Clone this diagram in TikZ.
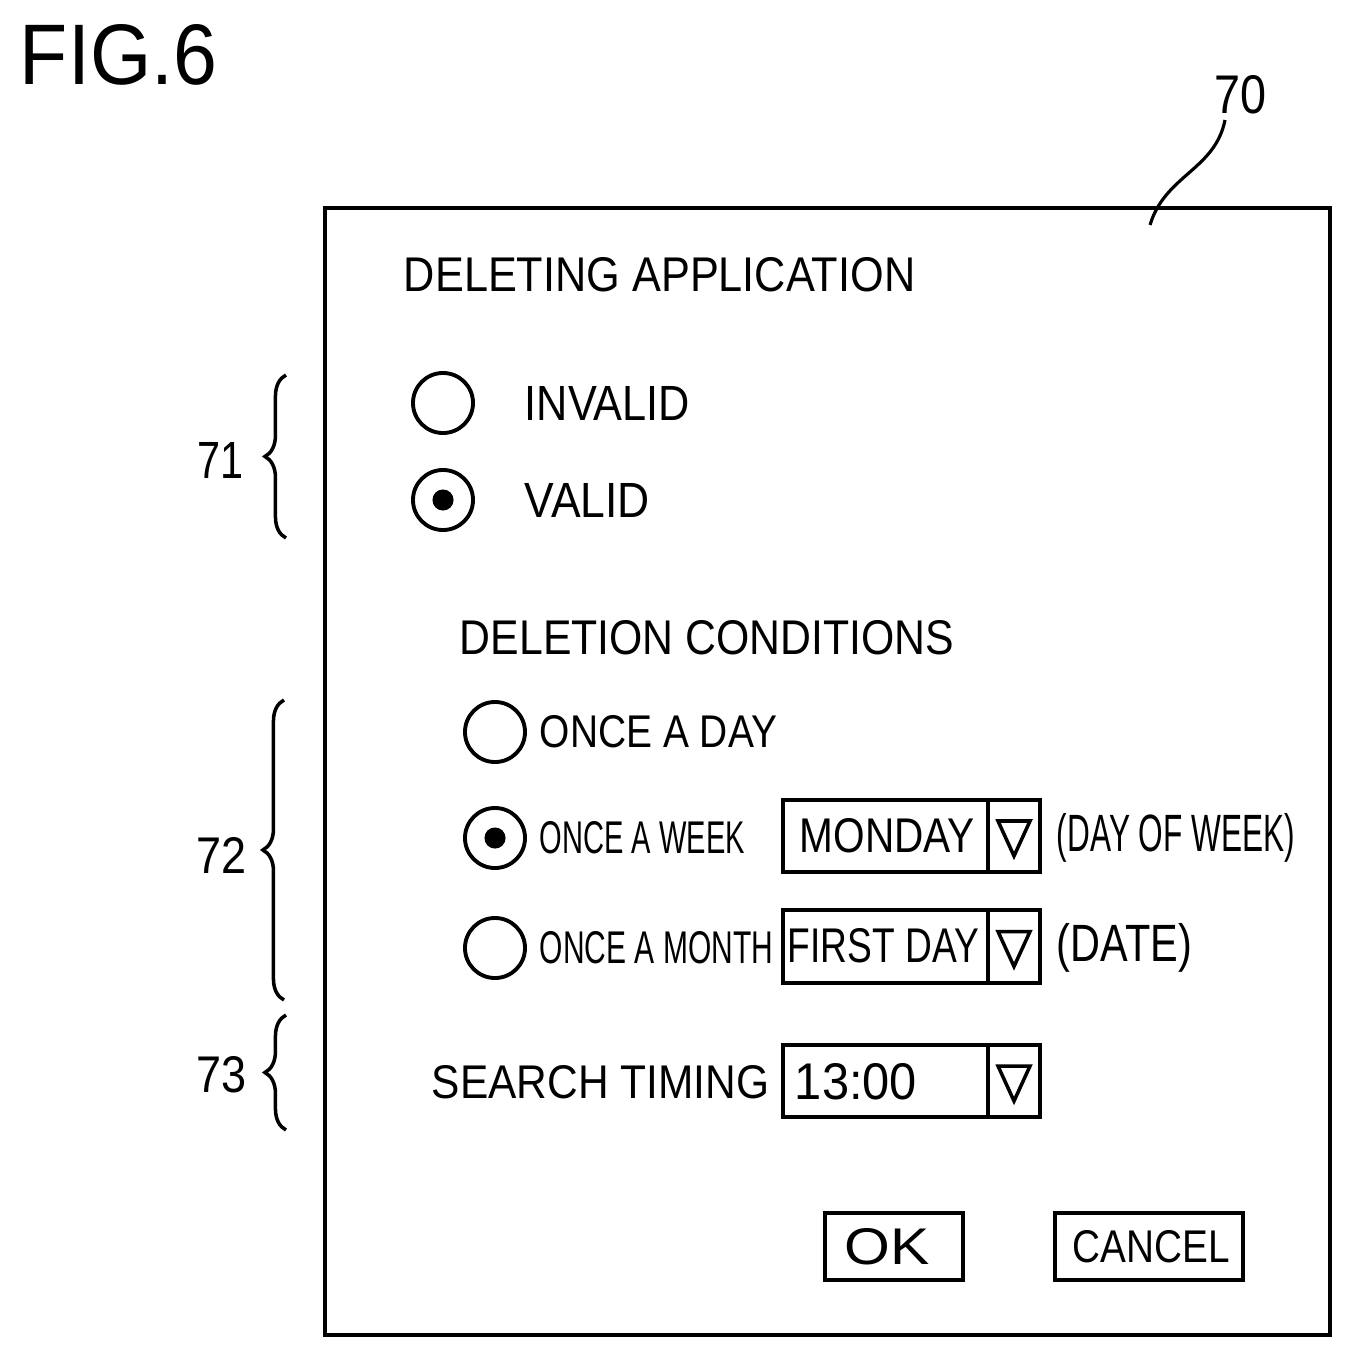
\documentclass[tikz,border=0pt]{standalone}
\usepackage{fontspec}
\setmainfont{Liberation Sans}
\usetikzlibrary{decorations.pathreplacing}
\newcommand{\fitt}[3]{\resizebox{#1cm}{#2cm}{#3}}
\begin{document}
\begin{tikzpicture}[x=0.01cm,y=-0.01cm,line width=1.1pt,
  lbl/.style={anchor=west,inner sep=0pt},
  radio/.style={draw,circle,minimum size=0.6cm,inner sep=0pt},
  box/.style={draw,line width=1.3pt},
  br/.style={decorate,decoration={brace,amplitude=6pt},line width=1pt}]
\useasboundingbox (0,0) rectangle (1352,1358);
\node[lbl] (fig) at (18,55) {\fitt{1.97}{0.6}{FIG.6}};
\node[lbl] (n70) at (1213,95) {\fitt{0.52}{0.38}{70}};
\draw[box] (325,208) rectangle (1330,1335);
\coordinate (lead) at (1150,225);
\draw[line width=0.9pt] (1225,120) .. controls (1215,170) and (1165,175) .. (lead);
\node[lbl] (t1) at (402,275) {\fitt{5.11}{0.34}{DELETING APPLICATION}};
\node[radio] (r1) at (443,403) {};
\node[radio] (r2) at (443,500) {};
\fill (443,500) circle (3pt);
\node[lbl] (t2) at (523,403) {\fitt{1.65}{0.34}{INVALID}};
\node[lbl] (t3) at (523,500) {\fitt{1.25}{0.34}{VALID}};
\node[lbl] (t4) at (458,638) {\fitt{4.94}{0.34}{DELETION CONDITIONS}};
\node[radio] (r3) at (495,732) {};
\node[radio] (r4) at (495,838) {};
\fill (495,838) circle (3pt);
\node[radio] (r5) at (495,948) {};
\node[lbl] (t5) at (538,732) {\fitt{2.37}{0.32}{ONCE A DAY}};
\node[lbl] (t6) at (538,838) {\fitt{2.05}{0.32}{ONCE A WEEK}};
\node[lbl] (t7) at (538,948) {\fitt{2.33}{0.32}{ONCE A MONTH}};
% dropdowns
\foreach \yt/\yb in {800/872,910/983,1045/1117}{
  \draw[box] (783,\yt) rectangle (1040,\yb);
  \draw[box] (988,\yt) -- (988,\yb);
  \draw[line width=1pt] (998,{(\yt+\yb)/2-15}) -- (1030,{(\yt+\yb)/2-15}) -- (1014,{(\yt+\yb)/2+20}) -- cycle;
}
\node[lbl] (t8) at (798,836) {\fitt{1.75}{0.34}{MONDAY}};
\node[lbl] (t9) at (786,946) {\fitt{1.91}{0.34}{FIRST DAY}};
\node[lbl] (t10) at (793,1082) {\fitt{1.22}{0.36}{13:00}};
\node[lbl] (t11) at (1055,838) {\fitt{2.38}{0.38}{(DAY OF WEEK)}};
\node[lbl] (t12) at (1055,948) {\fitt{1.35}{0.38}{(DATE)}};
\node[lbl] (t13) at (430,1082) {\fitt{3.37}{0.33}{SEARCH TIMING}};
\draw[box] (825,1213) rectangle (963,1280);
\node (ok) at (887,1247) {\fitt{0.85}{0.36}{OK}};
\draw[box] (1055,1213) rectangle (1243,1280);
\node (cancel) at (1151,1247) {\fitt{1.57}{0.32}{CANCEL}};
% braces
\draw[br] (286,538) -- (286,375);
\draw[br] (284,1000) -- (284,700);
\draw[br] (286,1130) -- (286,1015);
\node[lbl] (n71) at (196,460) {\fitt{0.46}{0.36}{71}};
\node[lbl] (n72) at (195,855) {\fitt{0.5}{0.36}{72}};
\node[lbl] (n73) at (195,1075) {\fitt{0.5}{0.36}{73}};
\end{tikzpicture}
\end{document}
